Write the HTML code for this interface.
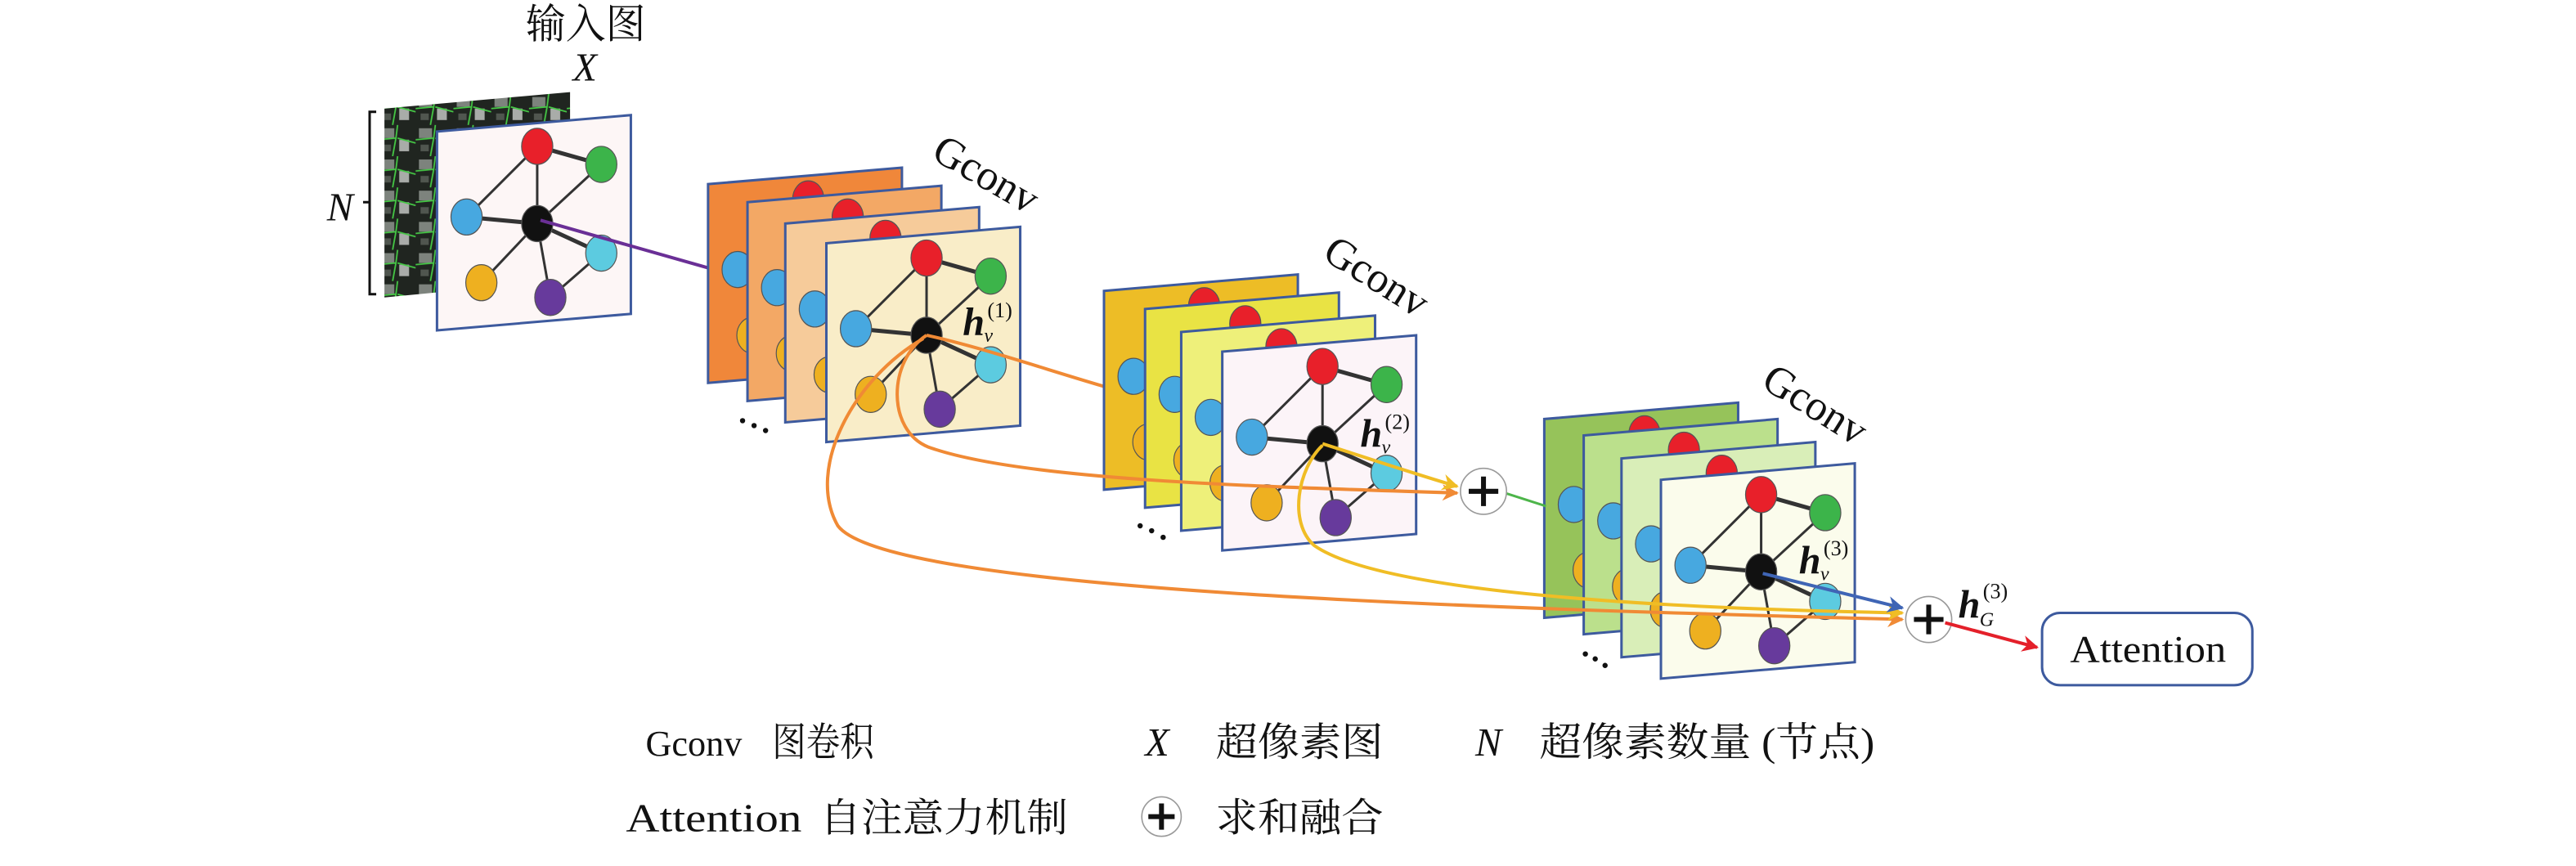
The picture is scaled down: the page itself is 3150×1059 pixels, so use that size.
<!DOCTYPE html>
<html><head><meta charset="utf-8"><style>
html,body{margin:0;padding:0;background:#fff;}
svg{display:block;}
text{font-family:"Liberation Serif","Noto Serif CJK SC",serif;fill:#111;}
</style></head><body>
<svg width="3150" height="1059" viewBox="0 0 1568 527" xmlns="http://www.w3.org/2000/svg">
<defs>
<pattern id="sat" width="23" height="19" patternUnits="userSpaceOnUse">
<rect width="23" height="19" fill="#202520"/>
<rect x="2" y="2" width="8" height="6" fill="#7d837d"/>
<rect x="13" y="9" width="6" height="7" fill="#a9aca9"/>
<rect x="3" y="12" width="5" height="4" fill="#50564f"/>
<path d="M0 9 L11 8 L12 0 M12 8 L23 11 M11 8 L9 19" stroke="#45c845" stroke-width="0.9" fill="none"/>
</pattern>
<g id="graph">
<g stroke="#333" stroke-width="1.5">
<line x1="61" y1="9" x2="61" y2="56"/><line x1="61" y1="9" x2="18" y2="52"/>
<line x1="61" y1="9" x2="100" y2="20" stroke-width="2.5"/><line x1="100" y1="20" x2="61" y2="56"/>
<line x1="18" y1="52" x2="61" y2="56" stroke-width="2.5"/><line x1="61" y1="56" x2="100" y2="74" stroke-width="2.5"/>
<line x1="61" y1="56" x2="27" y2="92"/><line x1="61" y1="56" x2="69" y2="101"/>
<line x1="69" y1="101" x2="100" y2="74"/>
</g>
<g stroke="#555" stroke-width="0.6">
<ellipse cx="61" cy="9" rx="9.5" ry="11" fill="#e8202a"/>
<ellipse cx="100" cy="20" rx="9.5" ry="11" fill="#3cb44a"/>
<ellipse cx="18" cy="52" rx="9.5" ry="11" fill="#47a8e0"/>
<ellipse cx="61" cy="56" rx="9.5" ry="11" fill="#111"/>
<ellipse cx="100" cy="74" rx="9.5" ry="11" fill="#5ccbe0"/>
<ellipse cx="27" cy="92" rx="9.5" ry="11" fill="#eeb020"/>
<ellipse cx="69" cy="101" rx="9.5" ry="11" fill="#673a9c"/>
</g>
</g>
<polygon id="pan" points="0,0 118,-10 118,111 0,121" stroke="#3d5a9e" stroke-width="1.5"/>
<marker id="mo" viewBox="0 0 10 10" refX="9" refY="5" markerWidth="5" markerHeight="5" orient="auto"><path d="M0 0 L10 5 L0 10 L3 5z" fill="#f08a35"/></marker>
<marker id="my" viewBox="0 0 10 10" refX="9" refY="5" markerWidth="5" markerHeight="5" orient="auto"><path d="M0 0 L10 5 L0 10 L3 5z" fill="#f0bd25"/></marker>
<marker id="mb" viewBox="0 0 10 10" refX="9" refY="5" markerWidth="5" markerHeight="5" orient="auto"><path d="M0 0 L10 5 L0 10 L3 5z" fill="#3f65b5"/></marker>
<marker id="mr" viewBox="0 0 10 10" refX="9" refY="5" markerWidth="5" markerHeight="5" orient="auto"><path d="M0 0 L10 5 L0 10 L3 5z" fill="#e4202a"/></marker>
</defs>

<text x="320" y="23" font-size="25" textLength="73" lengthAdjust="spacingAndGlyphs">输入图</text>
<text x="356" y="49" font-size="24" font-style="italic" text-anchor="middle">X</text>
<text x="199" y="134" font-size="24" font-style="italic">N</text>
<path d="M229 68 L225 68 L225 179 L229 179 M225 123 L221 123" stroke="#111" stroke-width="1.5" fill="none"/>
<polygon points="234,66 347,56 347,170 234,181" fill="url(#sat)"/>
<g transform="translate(266,80)"><use href="#pan" fill="#fdf6f6"/><use href="#graph"/></g>
<line x1="329" y1="134" x2="431" y2="163" stroke="#6a2f96" stroke-width="2"/>

<g transform="translate(431,112)"><use href="#pan" fill="#f0873a"/><use href="#graph"/></g>
<g transform="translate(455,123)"><use href="#pan" fill="#f3a865"/><use href="#graph"/></g>
<g transform="translate(478,136)"><use href="#pan" fill="#f6cb9a"/><use href="#graph"/></g>
<g transform="translate(503,148)"><use href="#pan" fill="#f9edc8"/><use href="#graph"/></g>
<text transform="translate(566,96) rotate(30)" font-size="26">Gconv</text>
<text x="586" y="204" font-size="24" font-weight="bold" font-style="italic">h</text>
<text x="599" y="208" font-size="12" font-style="italic">v</text>
<text x="601" y="193" font-size="13">(1)</text>
<g fill="#111"><circle cx="452" cy="256" r="1.6"/><circle cx="459" cy="259" r="1.6"/><circle cx="466" cy="262" r="1.6"/></g>
<path d="M564 204 C600 212 640 226 675 236" stroke="#f08a35" stroke-width="2" fill="none"/>

<g transform="translate(672,177)"><use href="#pan" fill="#edbd26"/><use href="#graph"/></g>
<g transform="translate(697,188)"><use href="#pan" fill="#e9e344"/><use href="#graph"/></g>
<g transform="translate(719,202)"><use href="#pan" fill="#eef07a"/><use href="#graph"/></g>
<g transform="translate(744,214)"><use href="#pan" fill="#fcf4f8"/><use href="#graph"/></g>
<text transform="translate(804,157) rotate(32)" font-size="26">Gconv</text>
<text x="828" y="272" font-size="24" font-weight="bold" font-style="italic">h</text>
<text x="841" y="276" font-size="12" font-style="italic">v</text>
<text x="843" y="261" font-size="13">(2)</text>
<g fill="#111"><circle cx="694" cy="320" r="1.6"/><circle cx="701" cy="323" r="1.6"/><circle cx="708" cy="327" r="1.6"/></g>

<g transform="translate(940,255)"><use href="#pan" fill="#96c35a"/><use href="#graph"/></g>
<g transform="translate(964,265)"><use href="#pan" fill="#bbe08c"/><use href="#graph"/></g>
<g transform="translate(987,279)"><use href="#pan" fill="#d9eeb8"/><use href="#graph"/></g>
<g transform="translate(1011,292)"><use href="#pan" fill="#fbfcec"/><use href="#graph"/></g>
<text transform="translate(1071,235) rotate(32)" font-size="26">Gconv</text>
<text x="1095" y="349" font-size="24" font-weight="bold" font-style="italic">h</text>
<text x="1108" y="353" font-size="12" font-style="italic">v</text>
<text x="1110" y="338" font-size="13">(3)</text>
<g fill="#111"><circle cx="965" cy="398" r="1.6"/><circle cx="971" cy="401" r="1.6"/><circle cx="977" cy="405" r="1.6"/></g>

<path d="M564 204 C540 220 540 262 565 272 C620 292 760 296 887 300" stroke="#f08a35" stroke-width="2" fill="none" marker-end="url(#mo)"/>
<path d="M562 206 C520 230 490 285 510 320 C540 360 900 370 1158 377" stroke="#f08a35" stroke-width="2" fill="none" marker-end="url(#mo)"/>
<path d="M805 270 C830 278 860 288 887 296" stroke="#f0bd25" stroke-width="2" fill="none" marker-end="url(#my)"/>
<path d="M805 271 C790 285 784 318 800 332 C840 360 1000 370 1158 373" stroke="#f0bd25" stroke-width="2" fill="none" marker-end="url(#my)"/>
<line x1="1073" y1="349" x2="1158" y2="370" stroke="#3f65b5" stroke-width="2" marker-end="url(#mb)"/>
<line x1="916" y1="300" x2="941" y2="308" stroke="#4db54a" stroke-width="1.5"/>

<circle cx="903" cy="299" r="14" fill="#fff" stroke="#999" stroke-width="0.8"/>
<path d="M903 290 V308 M894 299 H912" stroke="#111" stroke-width="3"/>
<circle cx="1174" cy="377" r="14" fill="#fff" stroke="#999" stroke-width="0.8"/>
<path d="M1174 368 V386 M1165 377 H1183" stroke="#111" stroke-width="3"/>
<text x="1192" y="376" font-size="24" font-weight="bold" font-style="italic">h</text>
<text x="1205" y="381" font-size="12" font-style="italic">G</text>
<text x="1207" y="364" font-size="13">(3)</text>
<line x1="1184" y1="379" x2="1240" y2="394" stroke="#e4202a" stroke-width="2" marker-end="url(#mr)"/>
<rect x="1243" y="373" width="128" height="44" rx="11" fill="#fff" stroke="#3d5a9e" stroke-width="1.5"/>
<text x="1260" y="403" font-size="23" textLength="95" lengthAdjust="spacingAndGlyphs">Attention</text>

<g font-size="24">
<text x="393" y="460" font-size="22">Gconv</text>
<text x="470" y="460" textLength="62" lengthAdjust="spacingAndGlyphs">图卷积</text>
<text x="697" y="460" font-style="italic">X</text>
<text x="740" y="460" textLength="102" lengthAdjust="spacingAndGlyphs">超像素图</text>
<text x="898" y="460" font-style="italic">N</text>
<text x="937" y="460" textLength="204" lengthAdjust="spacingAndGlyphs">超像素数量 (节点)</text>
<text x="381" y="506" textLength="107" lengthAdjust="spacingAndGlyphs">Attention</text>
<text x="499" y="506" textLength="151" lengthAdjust="spacingAndGlyphs">自注意力机制</text>
<text x="740" y="506" textLength="102" lengthAdjust="spacingAndGlyphs">求和融合</text>
</g>
<circle cx="707" cy="497" r="12" fill="#fff" stroke="#999" stroke-width="0.8"/>
<path d="M707 489 V505 M699 497 H715" stroke="#111" stroke-width="3"/>
</svg>
</body></html>
